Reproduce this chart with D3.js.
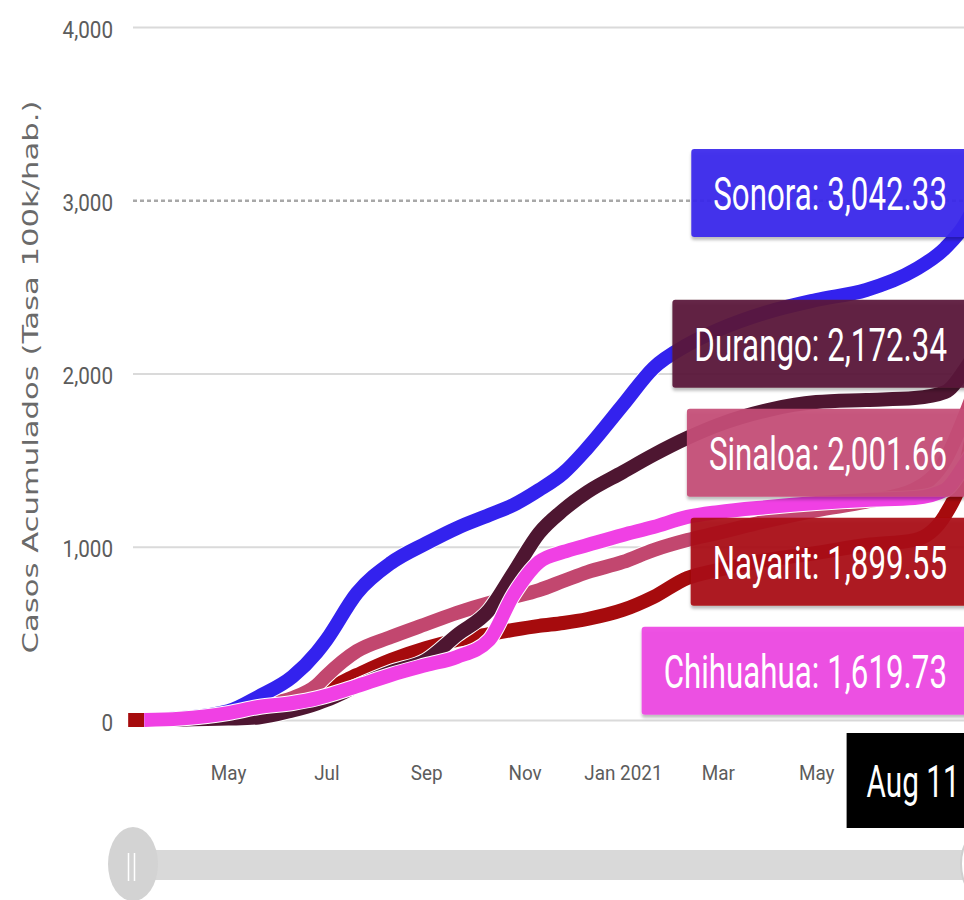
<!DOCTYPE html>
<html>
<head>
<meta charset="utf-8">
<script src="https://cdn.jsdelivr.net/npm/d3@7"></script>
<style>
  html, body { margin: 0; padding: 0; background: #fff; overflow: hidden; }
  svg { display: block; }
</style>
</head>
<body>
<svg id="chart" width="964" height="900"></svg>
<script>
// ---------------- DATA ----------------
const dates = ["2020-02-29","2020-03-10","2020-04-01","2020-05-01","2020-05-20","2020-06-10","2020-06-25",
  "2020-07-01","2020-07-20","2020-08-10","2020-09-01","2020-09-20","2020-10-10","2020-10-25",
  "2020-11-10","2020-11-25","2020-12-10","2021-01-01","2021-01-20","2021-02-10","2021-03-01",
  "2021-04-01","2021-05-01","2021-06-01","2021-07-01","2021-07-20","2021-08-01","2021-08-11"];

const stateNames = ["Sonora", "Durango", "Sinaloa", "Nayarit", "Chihuahua"];

const sonora    = [null, 0, 10, 50, 135, 250, 390, 462, 733, 906, 1020, 1108, 1183, 1241, 1328, 1425, 1570, 1818, 2032, 2165, 2251, 2355, 2424, 2482, 2597, 2724, 2857, 3042.33];
const durango   = [null, 0, 2, 8, 15, 55, 95, 115, 196, 277, 346, 490, 635, 848, 1079, 1212, 1316, 1431, 1530, 1628, 1703, 1789, 1835, 1847, 1858, 1893, 2020, 2172.34];
const sinaloa   = [null, 0, 8, 40, 85, 127, 200, 255, 398, 479, 554, 618, 675, 710, 750, 802, 854, 912, 981, 1039, 1080, 1150, 1210, 1260, 1330, 1500, 1750, 2001.66];
const nayarit   = [0, 0, 5, 30, 70, 112, 155, 176, 260, 346, 416, 462, 496, 520, 543, 560, 583, 635, 710, 820, 866, 924, 964, 1010, 1039, 1183, 1443, 1899.55];
const chihuahua = [null, 0, 8, 40, 75, 98, 125, 140, 196, 260, 317, 364, 462, 722, 912, 970, 1010, 1068, 1114, 1172, 1200, 1229, 1252, 1270, 1281, 1328, 1472, 1619.73];

const stateColors = ["#3322ee", "#4e1631", "#c2476f", "#a60b0d", "#f040e4"];
const boxColors   = ["#3a26ec", "#5a1a39", "#c54e77", "#aa1013", "#ee48e3"];

const yTicks = [0, 1000, 2000, 3000, 4000];
const xTickDates  = ["2020-05-01","2020-07-01","2020-09-01","2020-11-01","2021-01-01","2021-03-01","2021-05-01"];
const xTickLabels = ["May","Jul","Sep","Nov","Jan 2021","Mar","May"];

const yTitle = "Casos Acumulados (Tasa 100k/hab.)";
const xDomain = ["2020-03-03", "2021-08-11"];
const currentDateLabel = "Aug 11";

// ---------------- SETUP ----------------
const parse = d3.utcParse("%Y-%m-%d");
const svg = d3.select("#chart");

const mLeft = 133, mRight = 980.6, mTop = 27, mBottom = 720;
const x = d3.scaleUtc().domain(xDomain.map(parse)).range([mLeft, mRight]);
const y = d3.scaleLinear().domain([0, 4000]).range([mBottom, mTop]);

const defs = svg.append("defs");
const f = defs.append("filter").attr("id", "shadow")
  .attr("x", "-10%").attr("y", "-20%").attr("width", "130%").attr("height", "150%");
f.append("feDropShadow").attr("dx", 0).attr("dy", 3).attr("stdDeviation", 1.6)
  .attr("flood-color", "#000").attr("flood-opacity", 0.28);

// ---------------- Y AXIS / GRID ----------------
const kY = 0.86;
const yAxisG = svg.append("g").attr("transform", `translate(${mLeft},0)`)
  .call(d3.axisLeft(y).tickValues(yTicks).tickFormat(d3.format(","))
        .tickSize(-(mRight - mLeft)).tickPadding(20));
yAxisG.select(".domain").remove();
yAxisG.selectAll(".tick line")
  .attr("stroke", d => d === 3000 ? "#a8a8a8" : "#dadada")
  .attr("stroke-width", d => d === 3000 ? 2.5 : 2)
  .attr("stroke-dasharray", d => d === 3000 ? "4,3" : null);
yAxisG.selectAll(".tick text")
  .attr("font-family", "Roboto, 'Noto Sans', sans-serif")
  .attr("font-size", 24)
  .attr("fill", "#5c5c5c")
  .attr("x", -20 / kY)
  .attr("dy", "0.42em")
  .attr("transform", `scale(${kY},1)`);

// Y title
svg.append("text")
  .attr("transform", `translate(38,377) rotate(-90)`)
  .attr("text-anchor", "middle")
  .attr("font-family", "'DejaVu Sans', Verdana, sans-serif")
  .attr("font-size", 22)
  .attr("fill", "#6a6a6a")
  .attr("textLength", 553)
  .attr("lengthAdjust", "spacingAndGlyphs")
  .text(yTitle);

// ---------------- X AXIS ----------------
const kX = 0.9;
const xAxisG = svg.append("g").attr("transform", `translate(0,${mBottom})`)
  .call(d3.axisBottom(x).tickValues(xTickDates.map(parse))
        .tickFormat((d, i) => xTickLabels[i]).tickSize(0));
xAxisG.select(".domain").remove();
xAxisG.selectAll(".tick text")
  .attr("font-family", "Roboto, 'Noto Sans', sans-serif")
  .attr("font-size", 21)
  .attr("fill", "#5c5c5c")
  .attr("y", 60)
  .attr("dy", 0)
  .attr("transform", `scale(${kX},1)`);

// ---------------- LINES ----------------
const seriesValues = [sonora, durango, sinaloa, nayarit, chihuahua];
const series = stateNames.map((name, i) => ({
  name, color: stateColors[i], box: boxColors[i],
  points: dates.map((d, j) => ({ date: parse(d), value: seriesValues[i][j] })),
  last: seriesValues[i][seriesValues[i].length - 1]
}));

const line = d3.line()
  .x(d => x(d.date)).y(d => y(d.value))
  .curve(d3.curveMonotoneX);

const drawOrder = ["Nayarit", "Sinaloa", "Durango", "Sonora", "Chihuahua"];
const linesG = svg.append("g");
drawOrder.forEach(n => {
  const s = series.find(t => t.name === n);
  const pts = s.points.filter(p => p.value !== null);
  linesG.append("path")
    .attr("d", line(pts))
    .attr("fill", "none")
    .attr("stroke", "#ffffff")
    .attr("stroke-width", 16)
    .attr("stroke-linejoin", "round")
    .attr("stroke-linecap", "butt");
  linesG.append("path")
    .attr("d", line(pts))
    .attr("fill", "none")
    .attr("stroke", s.color)
    .attr("stroke-width", 14)
    .attr("stroke-linejoin", "round")
    .attr("stroke-linecap", "butt");
});

// ---------------- LABELS ----------------
const kL = 0.68, boxH = 88, gap = 109, textRight = 947, padL = 22;
const fmt = d3.format(",.2f");
const sorted = series.slice().sort((a, b) => b.last - a.last);
let prev = -Infinity;
sorted.forEach(s => {
  let cy = y(s.last);
  if (cy < prev + gap) cy = prev + gap;
  prev = cy;
  s.cy = cy;
});

const labelsG = svg.append("g");
sorted.forEach(s => {
  const g = labelsG.append("g");
  const rect = g.append("rect").attr("fill", s.box).attr("fill-opacity", 0.93)
    .attr("rx", 3).attr("filter", "url(#shadow)");
  const t = g.append("g").attr("transform", `translate(${textRight},${s.cy + 17}) scale(${kL},1)`)
    .append("text")
    .attr("text-anchor", "end")
    .attr("font-family", "Roboto, 'Noto Sans', sans-serif")
    .attr("font-size", 46)
    .attr("fill", "#ffffff")
    .text(`${s.name}: ${fmt(s.last)}`);
  const w = t.node().getComputedTextLength() * kL;
  const bx = textRight - w - padL;
  rect.attr("x", bx).attr("y", s.cy - boxH / 2).attr("width", mRight + 10 - bx).attr("height", boxH);
});

// ---------------- CURRENT DATE BOX ----------------
const endX = x(parse(xDomain[1]));
const dg = svg.append("g");
dg.append("rect").attr("x", endX - 134).attr("y", 733).attr("width", 160).attr("height", 95).attr("fill", "#000");
dg.append("g").attr("transform", `translate(${endX - 114},797) scale(0.66,1)`)
  .append("text")
  .attr("font-family", "Roboto, 'Noto Sans', sans-serif")
  .attr("font-size", 45)
  .attr("fill", "#ffffff")
  .text(currentDateLabel);

// ---------------- SLIDER ----------------
const sl = svg.append("g");
sl.append("rect").attr("x", 150).attr("y", 850).attr("width", 830).attr("height", 30).attr("fill", "#d9d9d9");
sl.append("ellipse").attr("cx", 988).attr("cy", 864).attr("rx", 27).attr("ry", 37)
  .attr("fill", "#ffffff").attr("stroke", "#cfcfcf").attr("stroke-width", 2);
sl.append("ellipse").attr("cx", 133).attr("cy", 864).attr("rx", 25).attr("ry", 37).attr("fill", "#d3d3d3");
[128.5, 134.5].forEach(px => sl.append("line").attr("x1", px).attr("x2", px)
  .attr("y1", 853).attr("y2", 881).attr("stroke", "#ffffff").attr("stroke-width", 1.5));
</script>
</body>
</html>
